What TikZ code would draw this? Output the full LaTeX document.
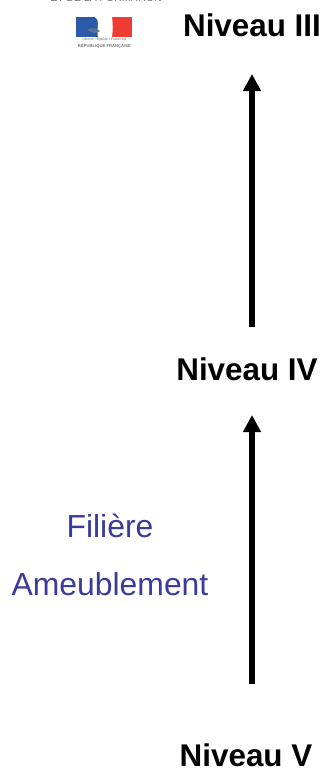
\documentclass[tikz,border=0pt]{standalone}
\usepackage{fontspec}
\setmainfont{Liberation Sans}
\usetikzlibrary{arrows.meta}
\definecolor{filiere}{HTML}{3B3B9B}
\definecolor{flagblue}{HTML}{2B5BA8}
\definecolor{flagred}{HTML}{EE3B33}
\tikzset{
  level/.style={font=\fontsize{31.5}{36}\selectfont\bfseries,inner sep=0pt,anchor=base},
  track/.style={font=\fontsize{32}{36}\selectfont,text=filiere,inner sep=0pt,anchor=base},
  rise/.style={line width=5.5bp,-{Triangle[width=17bp,length=17bp]}},
  tiny/.style={inner sep=0pt,text=black!55,anchor=center}
}
\begin{document}
\begin{tikzpicture}[x=1bp,y=-1bp]
\useasboundingbox (0,0) rectangle (326,769);
\clip (0,0) rectangle (326,769);
% logo
\node[tiny,font=\fontsize{10.5}{11}\selectfont] (ministry) at (106,-2) {ET DE LA FORMATION};
\fill[flagblue] (76,17) rectangle (100,37);
\fill[flagred] (110,17) rectangle (132,37);
\fill[white] (95,17) .. controls (101,22) and (96,27) .. (98,37) -- (112,37) .. controls (113,30) and (113,24) .. (112,17) -- cycle;
\fill[black!40!flagblue!70] (87,30) .. controls (91,27) and (96,28) .. (100,31) .. controls (97,34) and (92,33) .. (87,30) -- cycle;
\node[tiny,font=\fontsize{3.6}{4}\selectfont] (motto) at (104.5,39.5) {Liberté • Égalité • Fraternité};
\node[tiny,font=\fontsize{4.2}{5}\selectfont\bfseries] (republic) at (104.5,46.5) {RÉPUBLIQUE FRANÇAISE};
% levels
\node[level] (n3) at (252,37) {Niveau III};
\node[level] (n4) at (247,380) {Niveau IV};
\node[level] (n5) at (246,766) {Niveau V};
% track
\node[track] (t1) at (110,537) {Filière};
\node[track] (t2) at (110,595) {Ameublement};
% arrows
\coordinate (a3) at (252,74);
\coordinate (a4t) at (252,327);
\coordinate (a4b) at (252,415);
\coordinate (a5) at (252,684);
\draw[rise] (a4t) -- (a3);
\draw[rise] (a5) -- (a4b);
\end{tikzpicture}
\end{document}
